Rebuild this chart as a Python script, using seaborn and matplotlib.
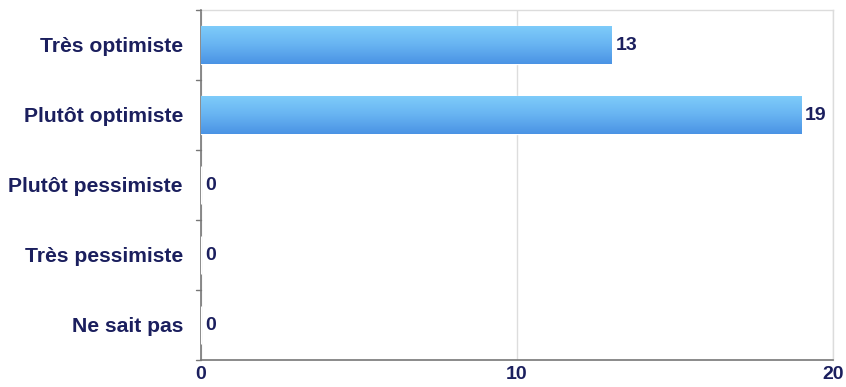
import numpy as np
import pandas as pd
import matplotlib
matplotlib.use("Agg")
import matplotlib.pyplot as plt
import seaborn as sns

categories = ["Très optimiste", "Plutôt optimiste", "Plutôt pessimiste", "Très pessimiste", "Ne sait pas"]
values = [13, 19, 0, 0, 0]
x_ticks = [0, 10, 20]

sns.set_theme(style="white")
plt.rcParams["font.family"] = ["Liberation Sans", "DejaVu Sans"]

navy = "#1b1f5e"
df = pd.DataFrame({"cat": categories, "val": values})

fig = plt.figure(figsize=(8.46, 3.87), dpi=100)
ax = fig.add_axes([201 / 846, 27 / 387, 632 / 846, 350 / 387])

sns.barplot(data=df, y="cat", x="val", orient="h", order=categories,
            color="#5aa8ee", width=0.55, ax=ax, zorder=3)

# vertical gradient fill clipped to each bar
grad = np.linspace(0, 1, 256).reshape(-1, 1)
cmap = matplotlib.colors.LinearSegmentedColormap.from_list(
    "bar", ["#7fcdfa", "#68b4f2", "#4a93e4"])
for p in ax.patches:
    x0, y0 = p.get_x(), p.get_y()
    w, h = p.get_width(), p.get_height()
    if w <= 0:
        continue
    im = ax.imshow(grad, cmap=cmap, aspect="auto",
                   extent=(x0, x0 + w, y0 + h, y0), zorder=4)
    im.set_clip_path(p)

ax.set_xlim(0, 20)
ax.set_ylim(4.5, -0.5)
ax.set_xticks(x_ticks)
ax.set_xticklabels([str(t) for t in x_ticks], fontsize=14, fontweight="bold", color=navy)
ax.set_yticks(np.arange(len(categories)))
ax.set_yticklabels(categories, fontsize=15.2, fontweight="bold", color=navy)
ax.tick_params(axis="y", length=0, pad=13)
ax.tick_params(axis="x", length=4, color="#888888", direction="in", pad=4)
ax.set_xlabel("")
ax.set_ylabel("")

# category separator ticks on the left axis
for b in np.arange(-0.5, len(categories), 1.0):
    ax.plot([-0.15, 0], [b, b], color="#777777", lw=1, clip_on=False, zorder=5)

ax.xaxis.grid(True, color="#dddddd", lw=1, zorder=0)
ax.set_axisbelow(True)
for side in ["top", "right"]:
    ax.spines[side].set_color("#dcdcdc")
    ax.spines[side].set_linewidth(1)
for side in ["left", "bottom"]:
    ax.spines[side].set_color("#777777")
    ax.spines[side].set_linewidth(1.2)

for i, v in enumerate(values):
    ax.text(v + 0.12, i, f"{v}", va="center", ha="left", fontsize=14,
            fontweight="bold", color=navy, zorder=6)

fig.savefig("out.png", dpi=100, facecolor="white")
